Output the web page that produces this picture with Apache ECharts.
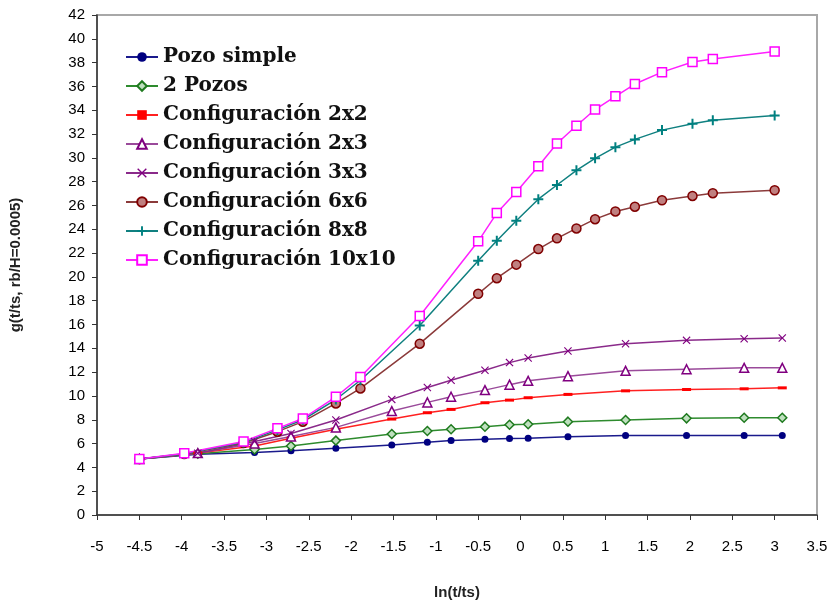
<!DOCTYPE html>
<html>
<head>
    <meta charset="utf-8">
    <title>g(t/ts) configuraciones</title>
    <script src="https://cdn.jsdelivr.net/npm/echarts@6/dist/echarts.min.js"></script>
</head>
<body style="margin:0">
    <div id="chart" style="width: 834px;height:605px;"></div>

    <script>
        // x (ln t/ts) para las series de pocos pozos
        const xBajo = [-4.5, -3.81, -3.14, -2.71, -2.18, -1.52, -1.10, -0.82, -0.42, -0.13, 0.09, 0.56, 1.24, 1.96, 2.64, 3.09];
        // x para 6x6, 8x8, 10x10
        const xAlto = [-4.5, -3.97, -3.27, -2.87, -2.57, -2.18, -1.89, -1.19, -0.50, -0.28, -0.05, 0.21, 0.43, 0.66, 0.88, 1.12, 1.35, 1.67, 2.03, 2.27, 3.0];

        const pozoSimple = [4.7, 5.1, 5.25, 5.4, 5.61, 5.88, 6.11, 6.25, 6.36, 6.42, 6.44, 6.58, 6.67, 6.67, 6.67, 6.67];
        const dosPozos   = [4.7, 5.15, 5.5, 5.8, 6.25, 6.8, 7.06, 7.2, 7.42, 7.58, 7.62, 7.84, 7.98, 8.12, 8.17, 8.17];
        const conf2x2    = [4.7, 5.2, 5.8, 6.44, 7.2, 8.06, 8.59, 8.87, 9.43, 9.65, 9.85, 10.13, 10.43, 10.54, 10.6, 10.68];
        const conf2x3    = [4.7, 5.2, 6.0, 6.6, 7.36, 8.73, 9.46, 9.93, 10.49, 10.95, 11.27, 11.66, 12.11, 12.24, 12.36, 12.36];
        const conf3x3    = [4.7, 5.19, 6.17, 6.85, 7.98, 9.71, 10.71, 11.32, 12.16, 12.8, 13.19, 13.78, 14.39, 14.67, 14.81, 14.87];

        const conf6x6   = [4.7, 5.12, 6.05, 7.0, 7.84, 9.37, 10.63, 14.39, 18.58, 19.89, 21.03, 22.34, 23.24, 24.07, 24.85, 25.5, 25.9, 26.44, 26.8, 27.03, 27.28];
        const conf8x8   = [4.7, 5.15, 6.1, 7.15, 8.0, 9.7, 11.32, 15.92, 21.36, 23.04, 24.71, 26.53, 27.72, 28.95, 29.96, 30.9, 31.55, 32.33, 32.86, 33.16, 33.56];
        const conf10x10 = [4.7, 5.19, 6.17, 7.28, 8.1, 9.93, 11.6, 16.71, 22.99, 25.36, 27.14, 29.3, 31.2, 32.7, 34.06, 35.17, 36.2, 37.2, 38.05, 38.3, 38.94];

        function pares(xs, ys) {
            return xs.map(function (x, i) { return [x, ys[i]]; });
        }

        const simboloX = 'path://M0,1L1,0L5,4L9,0L10,1L6,5L10,9L9,10L5,6L1,10L0,9L4,5Z';
        const simboloMas = 'path://M4,0L6,0L6,4L10,4L10,6L6,6L6,10L4,10L4,6L0,6L0,4L4,4Z';

        function serie(nombre, datos, color, simbolo, tam, relleno, borde) {
            return {
                name: nombre,
                type: 'line',
                data: datos,
                symbol: simbolo,
                symbolSize: tam,
                lineStyle: { color: color, width: 1.5 },
                itemStyle: { color: relleno, borderColor: borde, borderWidth: borde ? 1.5 : 0 },
                z: 3
            };
        }

        const chart = echarts.init(document.getElementById('chart'));
        const ejeTexto = { fontFamily: 'Liberation Sans', fontSize: 15, color: '#000' };

        const option = {
            animation: false,
            backgroundColor: '#fff',
            grid: {
                left: 93, right: 17, top: 15, bottom: 88,
                show: true, borderColor: '#a8a8a8', borderWidth: 2
            },
            legend: {
                orient: 'vertical',
                left: 120,
                top: 42,
                itemWidth: 32,
                itemHeight: 12,
                itemGap: 9,
                textStyle: { fontFamily: 'DejaVu Serif', fontWeight: 'bold', fontSize: 20, color: '#111', lineHeight: 20 }
            },
            xAxis: {
                type: 'value',
                min: -5, max: 3.5, interval: 0.5,
                name: 'ln(t/ts)',
                nameLocation: 'middle',
                nameGap: 70,
                nameTextStyle: { fontFamily: 'Liberation Sans', fontSize: 15, fontWeight: 'bold', color: '#222' },
                axisLine: { onZero: false, lineStyle: { color: '#333', width: 1.5 } },
                axisTick: { show: true, length: 5, lineStyle: { color: '#333' } },
                axisLabel: Object.assign({ margin: 24 }, ejeTexto),
                splitLine: { show: false }
            },
            yAxis: {
                type: 'value',
                min: 0, max: 42, interval: 2,
                name: 'g(t/ts, rb/H=0.0005)',
                nameLocation: 'middle',
                nameGap: 74,
                nameTextStyle: { fontFamily: 'Liberation Sans', fontSize: 15, fontWeight: 'bold', color: '#222' },
                axisLine: { show: true, onZero: false, lineStyle: { color: '#333', width: 1.5 } },
                axisTick: { show: true, length: 5, lineStyle: { color: '#333' } },
                axisLabel: Object.assign({ margin: 12 }, ejeTexto),
                splitLine: { show: false }
            },
            series: [
                serie('Pozo simple', pares(xBajo, pozoSimple), '#1a1a8c', 'circle', 7, '#000080', null),
                serie('2 Pozos', pares(xBajo, dosPozos), '#2e8b2e', 'diamond', 9, '#bfe0bf', '#1f7a1f'),
                serie('Configuración 2x2', pares(xBajo, conf2x2), '#ff2020', 'rect', [9, 3], '#ff0000', null),
                serie('Configuración 2x3', pares(xBajo, conf2x3), '#9a4a9a', 'triangle', 9, '#ffffff', '#800080'),
                serie('Configuración 3x3', pares(xBajo, conf3x3), '#8a2a8a', simboloX, 8, '#800080', null),
                serie('Configuración 6x6', pares(xAlto, conf6x6), '#8b3a3a', 'circle', 9, '#c08080', '#800000'),
                serie('Configuración 8x8', pares(xAlto, conf8x8), '#108080', simboloMas, 10, '#008080', null),
                serie('Configuración 10x10', pares(xAlto, conf10x10), '#ff20ff', 'rect', 9, '#ffffff', '#ff00ff')
            ]
        };

        chart.setOption(option);
    </script>
</body>
</html>
